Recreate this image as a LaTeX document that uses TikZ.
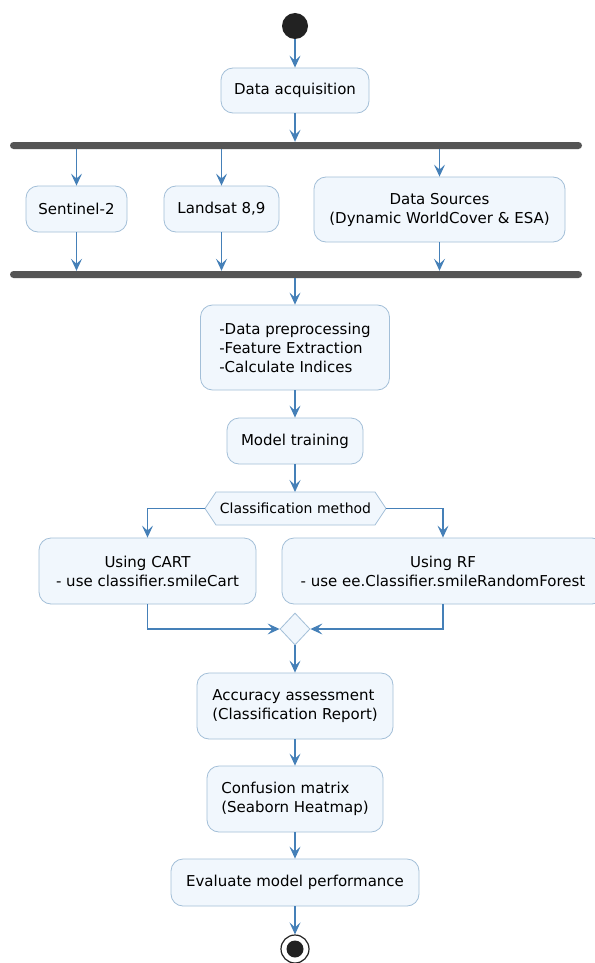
\documentclass[tikz,border=0pt]{standalone}
\usepackage{fontspec}
\setmainfont{DejaVu Sans}
\usetikzlibrary{shapes.geometric,arrows.meta,calc}
\definecolor{boxfill}{HTML}{F1F7FD}
\definecolor{boxline}{HTML}{A3BFD8}
\definecolor{arrowc}{HTML}{4580B8}
\definecolor{barc}{HTML}{555555}
\definecolor{dotc}{HTML}{222222}
\begin{document}
\begin{tikzpicture}[x=1pt,y=-1pt,
  actbox/.style={draw=boxline, fill=boxfill, rounded corners=12pt, line width=0.8pt, inner sep=0pt, font=\fontsize{15}{19}\selectfont},
  arr/.style={draw=arrowc, line width=1.2pt, -{Stealth[length=12pt,width=11pt,inset=5pt]}},
  barnode/.style={fill=barc, rounded corners=3.5pt, inner sep=0pt, minimum height=7pt, minimum width=572pt},
]
\useasboundingbox (0,0) rectangle (594,963);
\fill[white] (0,0) rectangle (594,963);

\node[circle, fill=dotc, minimum size=26pt, inner sep=0pt] (start) at (295,26) {};
\node[actbox, minimum width=148pt, minimum height=45pt] (acq) at (295,90.5) {Data acquisition};
\node[barnode] (bar1) at (296,145.5) {};
\node[actbox, minimum width=101pt, minimum height=46pt] (s2) at (76.5,209) {Sentinel-2};
\node[actbox, minimum width=115pt, minimum height=46pt] (ls) at (221.5,209) {Landsat 8,9};
\node[actbox, minimum width=251pt, minimum height=65pt, align=center] (ds) at (439.5,209.5) {Data Sources\\(Dynamic WorldCover \& ESA)};
\node[barnode] (bar2) at (296,274.5) {};
\node[actbox, minimum width=189pt, minimum height=85pt, align=left] (pre) at (295,347.5) {-Data preprocessing\\-Feature Extraction\\-Calculate Indices};
\node[actbox, minimum width=136pt, minimum height=46pt] (mt) at (295,441) {Model training};

\draw[draw=boxline, fill=boxfill, line width=0.8pt] (216,492) -- (375,492) -- (386,508.5) -- (375,525) -- (216,525) -- (205,508.5) -- cycle;
\node[font=\fontsize{14}{17}\selectfont, inner sep=0pt, minimum width=159pt, minimum height=33pt] (hex) at (295.5,508.5) {Classification method};
\coordinate (hexL) at (205,508.5);
\coordinate (hexR) at (386,508.5);

\node[actbox, minimum width=217pt, minimum height=66pt, align=center] (cart) at (147.5,571) {Using CART\\- use classifier.smileCart};
\node[actbox, minimum width=322pt, minimum height=66pt, align=center] (rf) at (443,571) {Using RF\\- use ee.Classifier.smileRandomForest};
\node[diamond, draw=boxline, fill=boxfill, line width=0.8pt, minimum width=30pt, minimum height=32pt, inner sep=0pt] (merge) at (295,629) {};
\node[actbox, minimum width=196pt, minimum height=66pt, align=left] (acc) at (295,706) {Accuracy assessment\\(Classification Report)};
\node[actbox, minimum width=176pt, minimum height=66pt, align=left] (conf) at (295,799) {Confusion matrix\\(Seaborn Heatmap)};
\node[actbox, minimum width=248pt, minimum height=47pt] (eval) at (295,882.5) {Evaluate model performance};
\node[circle, draw=dotc, line width=1.2pt, fill=white, minimum size=28pt, inner sep=0pt] (end) at (295,949) {};
\fill[dotc] (end.center) circle (8.5pt);

\draw[arr] (start) -- (acq);
\draw[arr] (acq) -- (acq |- bar1.north);
\draw[arr] (s2 |- bar1.south) -- (s2.north);
\draw[arr] (ls |- bar1.south) -- (ls.north);
\draw[arr] (ds |- bar1.south) -- (ds.north);
\draw[arr] (s2.south) -- (s2 |- bar2.north);
\draw[arr] (ls.south) -- (ls |- bar2.north);
\draw[arr] (ds.south) -- (ds |- bar2.north);
\draw[arr] (pre |- bar2.south) -- (pre.north);
\draw[arr] (pre) -- (mt);
\draw[arr] (mt.south) -- (295,492);
\draw[arr] (hexL) -| (cart.north);
\draw[arr] (hexR) -| (rf.north);
\draw[arr] (cart.south) |- (merge.west);
\draw[arr] (rf.south) |- (merge.east);
\draw[arr] (merge) -- (acc);
\draw[arr] (acc) -- (conf);
\draw[arr] (conf) -- (eval);
\draw[arr] (eval) -- (end);
\end{tikzpicture}
\end{document}
